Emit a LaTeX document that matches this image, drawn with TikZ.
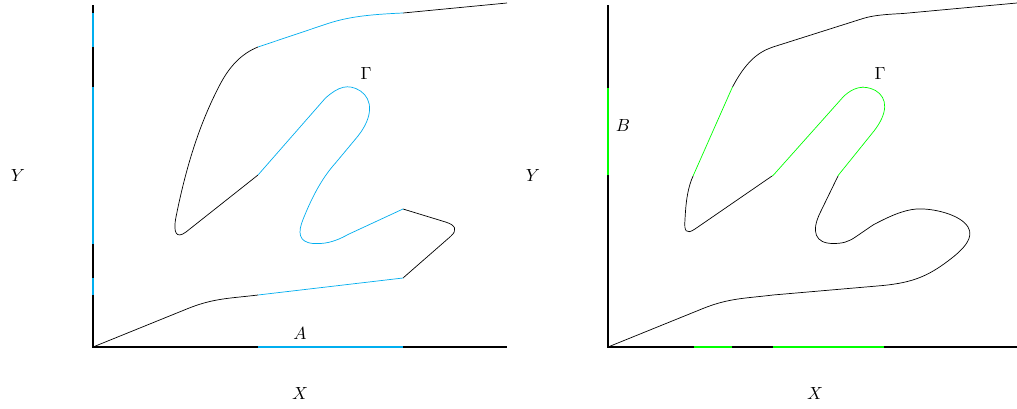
\documentclass[tikz,border=0pt]{standalone}
\usepackage{tikz}
\definecolor{setA}{RGB}{0,174,239}
\definecolor{setB}{RGB}{0,255,0}
\tikzset{axisline/.style={line width=1.1pt}}
\newcommand{\curveA}{(0,0) -- (1.9,0.77) to[out=22,in=187] (3.3,1.04) -- (6.2,1.38) -- (7.15,2.21)
  .. controls (7.3,2.34) and (7.25,2.44) .. (7.05,2.5) -- (6.2,2.76) -- (5.1,2.25)
  .. controls (4.8,2.08) and (4.6,2.06) .. (4.4,2.07) .. controls (4.1,2.1) and (4.1,2.3) .. (4.2,2.55)
  .. controls (4.4,3.05) and (4.6,3.4) .. (4.85,3.68) -- (5.3,4.22)
  .. controls (5.6,4.6) and (5.6,4.95) .. (5.35,5.12) .. controls (5.1,5.28) and (4.9,5.2) .. (4.65,4.98)
  -- (3.3,3.44) -- (1.86,2.3) .. controls (1.66,2.15) and (1.6,2.3) .. (1.66,2.6)
  .. controls (1.9,3.8) and (2.2,4.6) .. (2.54,5.25) .. controls (2.75,5.65) and (3.0,5.88) .. (3.3,6.0)
  -- (4.7,6.47) .. controls (5.1,6.6) and (5.5,6.65) .. (6.2,6.68) -- (8.28,6.88)}
\newcommand{\curveB}{(0,0) -- (1.9,0.77) to[out=22,in=187] (3.3,1.04) -- (5.5,1.23)
  .. controls (6.1,1.29) and (6.4,1.42) .. (6.8,1.72) .. controls (7.15,1.98) and (7.32,2.2) .. (7.2,2.4)
  .. controls (7.05,2.65) and (6.5,2.78) .. (6.17,2.76) .. controls (5.9,2.74) and (5.6,2.6) .. (5.3,2.44)
  -- (4.95,2.2) .. controls (4.8,2.1) and (4.7,2.07) .. (4.5,2.07) .. controls (4.15,2.07) and (4.05,2.3) .. (4.25,2.7)
  -- (4.61,3.44) -- (5.32,4.32) .. controls (5.6,4.68) and (5.6,4.98) .. (5.35,5.13)
  .. controls (5.1,5.26) and (4.9,5.18) .. (4.72,5.02) -- (3.31,3.44) -- (1.74,2.36)
  .. controls (1.56,2.24) and (1.52,2.32) .. (1.54,2.55) .. controls (1.56,2.95) and (1.6,3.2) .. (1.71,3.44)
  -- (2.48,5.18) .. controls (2.75,5.7) and (3.0,5.9) .. (3.3,6.0) -- (5.1,6.57)
  .. controls (5.3,6.63) and (5.5,6.65) .. (5.9,6.67) -- (8.18,6.88)}
\begin{document}
\begin{tikzpicture}
\useasboundingbox (-1.86,-1.22) rectangle (18.48,6.94);
\draw[axisline] (0,6.84) -- (0,0) -- (8.28,0);
\draw[axisline,setA] (3.3,0) -- (6.2,0);
\draw[axisline,setA] (0,6.0) -- (0,6.68);
\draw[axisline,setA] (0,2.07) -- (0,5.2);
\draw[axisline,setA] (0,1.04) -- (0,1.38);
\draw \curveA;
\begin{scope}
\clip (3.3,-0.5) rectangle (6.2,7.2);
\draw[white,line width=1.5pt] \curveA;
\draw[setA] \curveA;
\end{scope}
\node (gammaA) at (5.46,5.48) {$\Gamma$};
\node (labA) at (4.14,0.28) {$A$};
\node (labXA) at (4.14,-0.92) {$X$};
\node (labYA) at (-1.5,3.44) {$Y$};
\begin{scope}[xshift=10.3cm]
\draw[axisline] (0,6.84) -- (0,0) -- (8.18,0);
\draw[axisline,setB] (0,3.44) -- (0,5.18);
\draw[axisline,setB] (1.71,0) -- (2.48,0);
\draw[axisline,setB] (3.3,0) -- (5.51,0);
\draw \curveB;
\begin{scope}
\clip (-0.5,3.44) rectangle (8.5,5.19);
\draw[white,line width=1.5pt] \curveB;
\draw[setB] \curveB;
\end{scope}
\node (gammaB) at (5.44,5.48) {$\Gamma$};
\node (labB) at (0.3,4.44) {$B$};
\node (labXB) at (4.14,-0.92) {$X$};
\node (labYB) at (-1.5,3.44) {$Y$};
\end{scope}
\end{tikzpicture}
\end{document}
